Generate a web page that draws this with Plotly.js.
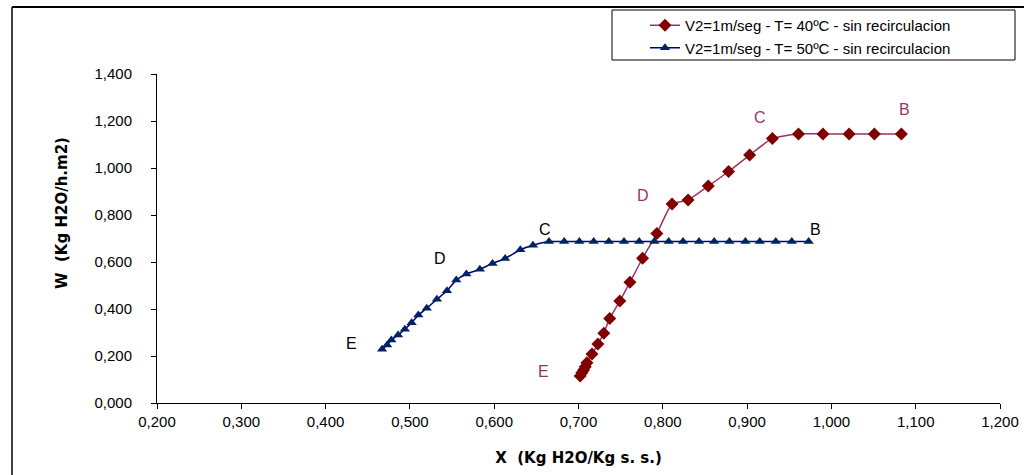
<!DOCTYPE html>
<html>
<head>
<meta charset="utf-8">
<script src="https://cdn.plot.ly/plotly-3.0.1.min.js"></script>
<style>
html,body{margin:0;padding:0;background:#fff;}
#chart{width:1024px;height:475px;}
</style>
</head>
<body>
<div id="chart"></div>
<script>
// Series 1: V2=1m/seg - T=40ºC - sin recirculacion
const x40 = [0.702, 0.704, 0.706, 0.708, 0.710, 0.716, 0.723, 0.730, 0.737, 0.749, 0.761, 0.776, 0.793,
             0.811, 0.830, 0.854, 0.878, 0.903, 0.930, 0.961, 0.990, 1.021, 1.051, 1.083];
const w40 = [0.115, 0.129, 0.140, 0.154, 0.171, 0.208, 0.251, 0.297, 0.360, 0.434, 0.514, 0.616, 0.721,
             0.847, 0.864, 0.923, 0.985, 1.055, 1.126, 1.145, 1.145, 1.145, 1.145, 1.145];
// Series 2: V2=1m/seg - T=50ºC - sin recirculacion
const x50 = [0.467, 0.473, 0.478, 0.486, 0.494, 0.502, 0.510, 0.520, 0.532, 0.544, 0.555, 0.567, 0.583,
             0.598, 0.613, 0.631, 0.646, 0.665, 0.683, 0.701, 0.718, 0.736, 0.754, 0.772, 0.790,
             0.807, 0.824, 0.843, 0.861, 0.879, 0.898, 0.915, 0.934, 0.953, 0.973];
const w50 = [0.229, 0.247, 0.268, 0.289, 0.314, 0.342, 0.374, 0.403, 0.441, 0.478, 0.523, 0.549, 0.569,
             0.594, 0.615, 0.652, 0.671, 0.687, 0.687, 0.687, 0.687, 0.687, 0.687, 0.687, 0.687,
             0.687, 0.687, 0.687, 0.687, 0.687, 0.687, 0.687, 0.687, 0.687, 0.687];
const name40 = "V2=1m/seg - T= 40ºC - sin recirculacion";
const name50 = "V2=1m/seg - T= 50ºC - sin recirculacion";
// Stage labels (letter, x, W)
const lab40 = ["B", "C", "D", "E"];
const lab40x = [1.087, 0.915, 0.777, 0.659];
const lab40y = [1.247, 1.213, 0.881, 0.132];
const lab50 = ["B", "C", "D", "E"];
const lab50x = [0.981, 0.660, 0.536, 0.431];
const lab50y = [0.740, 0.740, 0.613, 0.255];
const xTicks = [0.2, 0.3, 0.4, 0.5, 0.6, 0.7, 0.8, 0.9, 1.0, 1.1, 1.2];
const yTicks = [0, 0.2, 0.4, 0.6, 0.8, 1.0, 1.2, 1.4];
const xTitle = "X  (Kg H2O/Kg s. s.)";
const yTitle = "W  (Kg H2O/h.m2)";

const FONT = "Liberation Sans, Arial, sans-serif";
const TFONT = "DejaVu Sans, Liberation Sans, sans-serif";
const red = "#993366", redM = "#800000", blue = "#000080", blueM = "#002366";

const traces = [
  {x: x40, y: w40, name: name40, type: "scatter", mode: "lines+markers",
   line: {color: red, width: 1.5, shape: "spline", smoothing: 0.5},
   marker: {symbol: "diamond", size: 10, color: redM}},
  {x: x50, y: w50, name: name50, type: "scatter", mode: "lines+markers",
   line: {color: blue, width: 1.5, shape: "spline", smoothing: 0.5},
   marker: {symbol: "triangle-up", size: 9, color: blueM}}
];

const annotations = [];
lab40.forEach((t, i) => annotations.push({x: lab40x[i], y: lab40y[i], xref: "x", yref: "y", text: t,
  showarrow: false, font: {family: FONT, size: 16, color: red}}));
lab50.forEach((t, i) => annotations.push({x: lab50x[i], y: lab50y[i], xref: "x", yref: "y", text: t,
  showarrow: false, font: {family: FONT, size: 16, color: "#000000"}}));
annotations.push({xref: "paper", yref: "paper", x: (62-157)/843, y: (403-213)/329, text: yTitle,
  textangle: -90, showarrow: false, xanchor: "center", yanchor: "middle",
  font: {family: TFONT, size: 15, color: "#000", weight: "bold"}});

const layout = {
  width: 1024, height: 475,
  margin: {l: 157, r: 24, t: 74, b: 72, autoexpand: false},
  paper_bgcolor: "#ffffff", plot_bgcolor: "#ffffff",
  separators: ",.",
  font: {family: FONT, size: 14, color: "#000"},
  showlegend: true,
  legend: {x: (645-157)/843, y: (403-9)/329, xanchor: "left", yanchor: "top", bgcolor: "rgba(0,0,0,0)",
           borderwidth: 0, font: {family: FONT, size: 15, color: "#000"}},
  xaxis: {range: [0.2, 1.2], tickvals: xTicks, tickformat: ".3f", showgrid: false, zeroline: false,
          showline: true, linecolor: "#000", linewidth: 1, ticks: "outside", ticklen: 5, tickcolor: "#000",
          automargin: false, tickfont: {family: FONT, size: 15},
          title: {text: xTitle, standoff: 23, font: {family: TFONT, size: 15, color: "#000", weight: "bold"}}},
  yaxis: {range: [0, 1.4], tickvals: yTicks, tickformat: ".3f", showgrid: false, zeroline: false,
          showline: true, linecolor: "#000", linewidth: 1, ticks: "outside", ticklen: 5, tickcolor: "#000",
          automargin: false, ticklabelstandoff: 16,
          tickfont: {family: FONT, size: 15}},
  annotations: annotations,
  shapes: [
    {type: "rect", xref: "paper", yref: "paper", x0: (612-157)/843, x1: (1015-157)/843,
     y0: (403-60)/329, y1: (403-10)/329, line: {color: "#000", width: 1}},
    {type: "line", xref: "paper", yref: "paper", x0: (12-157)/843, x1: (1024-157)/843,
     y0: (403-7)/329, y1: (403-7)/329, line: {color: "#000", width: 2}},
    {type: "line", xref: "paper", yref: "paper", x0: (12-157)/843, x1: (12-157)/843,
     y0: (403-7)/329, y1: (403-480)/329, line: {color: "#000", width: 1.5}}
  ]
};

Plotly.newPlot("chart", traces, layout, {displayModeBar: false, staticPlot: true});
</script>
</body>
</html>
